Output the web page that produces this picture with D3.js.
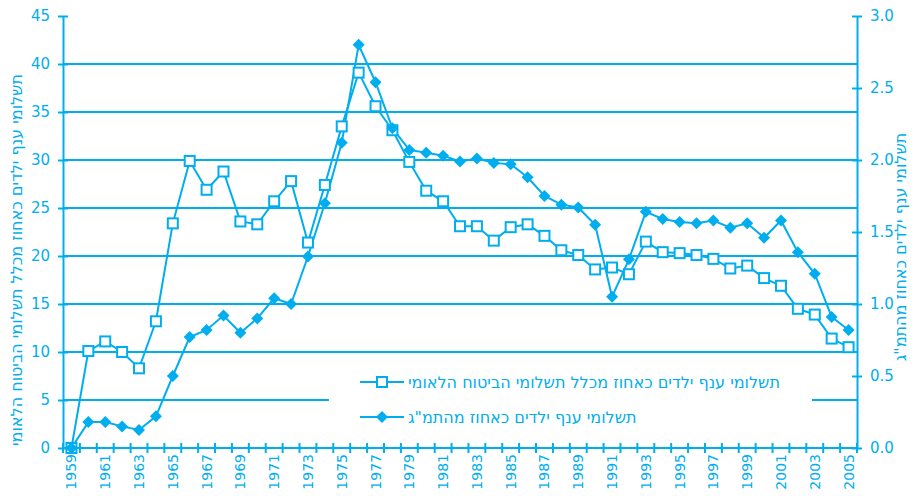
<!DOCTYPE html>
<html><head><meta charset="utf-8">
<script src="https://cdn.jsdelivr.net/npm/d3@7"></script>
<style>body{margin:0;background:#fff}svg{display:block}text{font-family:"DejaVu Sans",Verdana,sans-serif}</style>
</head><body>
<svg id="c" width="917" height="496"></svg>
<script>
const years = d3.range(1959, 2006);
const niShare = [0,10.1,11.1,10.0,8.3,13.2,23.4,29.9,26.9,28.8,23.6,23.3,25.7,27.8,21.4,27.4,33.5,39.1,35.6,33.1,29.8,26.8,25.7,23.1,23.1,21.6,23.0,23.3,22.1,20.6,20.1,18.6,18.8,18.1,21.5,20.4,20.3,20.1,19.7,18.7,19.0,17.7,16.9,14.5,13.9,11.4,10.5];
const gdpShare = [0,0.18,0.18,0.15,0.125,0.22,0.50,0.77,0.82,0.92,0.80,0.90,1.04,1.00,1.33,1.70,2.12,2.80,2.54,2.22,2.07,2.05,2.03,1.99,2.01,1.98,1.97,1.88,1.75,1.69,1.67,1.55,1.05,1.31,1.64,1.59,1.57,1.56,1.58,1.53,1.56,1.46,1.58,1.36,1.21,0.91,0.82];
const leftTicks = [0,5,10,15,20,25,30,35,40,45];
const rightTicks = [0,0.5,1.0,1.5,2.0,2.5,3.0];
const xLabels = years.filter(y => (y - 1959) % 2 === 0);
const leftTitle = "תשלומי ענף ילדים כאחוז מכלל תשלומי הביטוח הלאומי";
const rightTitle = 'תשלומי ענף ילדים כאחוז מהתמ"ג';
const legendNames = ["תשלומי ענף ילדים כאחוז מכלל תשלומי הביטוח הלאומי", 'תשלומי ענף ילדים כאחוז מהתמ"ג'];

const C = "#00aeef";
const svg = d3.select("#c");
const L = 63, R = 857, T = 16, B = 448;
const x = d3.scaleBand().domain(years).range([L, R]);
const yL = d3.scaleLinear().domain([0,45]).range([B, T]);
const yR = d3.scaleLinear().domain([0,3]).range([B, T]);

// gridlines
const grid = svg.append("g");
leftTicks.filter(v => v > 0 && v < 45).forEach(v => {
  grid.append("line").attr("x1", L).attr("x2", R).attr("y1", yL(v)).attr("y2", yL(v))
    .attr("stroke", C).attr("stroke-width", 2);
});

// axes
function styleAxis(g){
  g.selectAll("path.domain").attr("stroke", C).attr("stroke-width", 2);
  g.selectAll(".tick line").attr("stroke", C).attr("stroke-width", 2);
  g.selectAll("text").attr("fill", C).style("font-size", "15px").style("font-family", '"DejaVu Sans",Verdana,sans-serif');
}
const gl = svg.append("g").attr("transform", `translate(${L},0)`)
  .call(d3.axisLeft(yL).tickValues(leftTicks).tickSize(5).tickPadding(8).tickSizeOuter(0));
gl.selectAll(".tick line").attr("x2", 5).attr("x1", -5);
styleAxis(gl);
const gr = svg.append("g").attr("transform", `translate(${R},0)`)
  .call(d3.axisRight(yR).tickValues(rightTicks).tickFormat(d3.format(".1f")).tickSize(5).tickPadding(8).tickSizeOuter(0));
gr.selectAll(".tick line").attr("x1", -5).attr("x2", 5);
styleAxis(gr);

// x axis
const gx = svg.append("g").attr("transform", `translate(0,${B})`);
gx.append("line").attr("x1", L).attr("x2", R).attr("stroke", C).attr("stroke-width", 2);
years.concat([2006]).forEach((yr, i) => {
  const xx = L + i * x.bandwidth();
  gx.append("line").attr("x1", xx).attr("x2", xx).attr("y1", -5).attr("y2", 5).attr("stroke", C).attr("stroke-width", 2);
});
xLabels.forEach(yr => {
  gx.append("text").attr("transform", `translate(${x(yr) + x.bandwidth()/2 + 5},6) rotate(-90)`)
    .attr("text-anchor", "end").attr("fill", C).style("font-size", "14px").text(yr);
});

// axis titles
svg.append("text").attr("transform", "translate(22,260) rotate(-90)").attr("text-anchor", "middle")
  .attr("fill", C).style("font-size", "16px").text(leftTitle);
svg.append("text").attr("transform", "translate(906,247) rotate(-90)").attr("text-anchor", "middle")
  .attr("fill", C).style("font-size", "16px").text(rightTitle);

// series
const cx = d => x(d) + x.bandwidth()/2;
const lineL = d3.line().x((d,i) => cx(years[i])).y(d => yL(d));
const lineR = d3.line().x((d,i) => cx(years[i])).y(d => yR(d));
svg.append("path").attr("d", lineL(niShare)).attr("fill", "none").attr("stroke", C).attr("stroke-width", 2);
svg.append("path").attr("d", lineR(gdpShare)).attr("fill", "none").attr("stroke", C).attr("stroke-width", 2);

const sq = 10;
svg.append("g").selectAll("rect").data(niShare).join("rect")
  .attr("x", (d,i) => cx(years[i]) - sq/2).attr("y", d => yL(d) - sq/2)
  .attr("width", sq).attr("height", sq).attr("fill", "#fff").attr("stroke", C).attr("stroke-width", 2);
const diamond = d3.symbol().type(d3.symbolSquare).size(72);
svg.append("g").selectAll("path").data(gdpShare).join("path")
  .attr("d", diamond).attr("fill", C)
  .attr("transform", (d,i) => `translate(${cx(years[i])},${yR(d)}) rotate(45)`);

// legend
const lg = svg.append("g");
lg.append("rect").attr("x", 329).attr("y", 366).attr("width", 483).attr("height", 66).attr("fill", "#fff");
[382, 417].forEach((ly, k) => {
  lg.append("line").attr("x1", 360).attr("x2", 404).attr("y1", ly).attr("y2", ly).attr("stroke", C).attr("stroke-width", 2);
  if (k === 0) {
    lg.append("rect").attr("x", 382 - sq/2).attr("y", ly - sq/2).attr("width", sq).attr("height", sq)
      .attr("fill", "#fff").attr("stroke", C).attr("stroke-width", 2);
  } else {
    lg.append("path").attr("d", diamond).attr("fill", C).attr("transform", `translate(382,${ly}) rotate(45)`);
  }
  lg.append("text").attr("x", 408).attr("y", ly + 6).attr("fill", C)
    .style("font-size", "16px").text(legendNames[k]);
});
</script>
</body></html>
